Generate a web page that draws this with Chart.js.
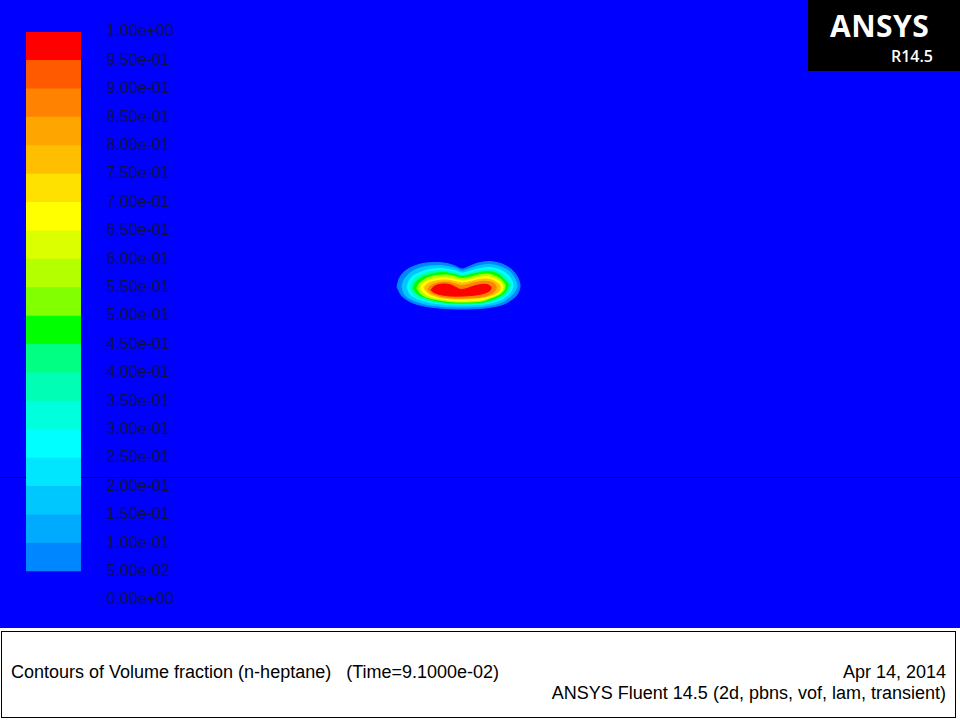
<!DOCTYPE html>
<html>
<head>
<meta charset="utf-8">
<script src="https://cdn.jsdelivr.net/npm/chart.js@4.4.0/dist/chart.umd.min.js"></script>
<style>
	body { margin: 0; width: 960px; height: 720px; background: #fff; position: relative; overflow: hidden; font-family: "Liberation Sans", Arial, sans-serif; }
	#vista { position: absolute; left: 0; top: 0; width: 960px; height: 628px; background: #0000ff; }
	#campo, #barra { position: absolute; left: 0; top: 0; }
	#logo { position: absolute; left: 808px; top: 0; width: 152px; height: 71px; background: #000; color: #fff; font-family: "Open Sans", "DejaVu Sans", sans-serif; }
	#logo .marca { position: absolute; left: 22px; top: 5px; font-size: 30px; font-weight: 700; letter-spacing: 0.5px; }
	#logo .versao { position: absolute; right: 27px; top: 45px; font-size: 16px; font-weight: 600; }
	#rodape { position: absolute; left: 1px; top: 631px; width: 955px; height: 87px; border: 1px solid #000; box-sizing: border-box; }
	.txt { position: absolute; font-size: 18px; line-height: 20px; color: #000; white-space: pre; }
</style>
</head>
<body>
<div id="vista"></div>
<canvas id="campo" width="960" height="628"></canvas>
<canvas id="barra" width="200" height="628"></canvas>
<div id="logo"><span class="marca">ANSYS</span><span class="versao">R14.5</span></div>
<div id="rodape"></div>
<div class="txt" style="left:11px; top:662px;">Contours of Volume fraction (n-heptane)   (Time=9.1000e-02)</div>
<div class="txt" style="right:14px; top:662px;">Apr 14, 2014</div>
<div class="txt" style="right:14px; top:683px;">ANSYS Fluent 14.5 (2d, pbns, vof, lam, transient)</div>
<script>
(function() {

	// faixas da escala de cores (de baixo para cima)
	var limitesInferiores = [0, 0.05, 0.10, 0.15, 0.20, 0.25, 0.30, 0.35, 0.40, 0.45, 0.50, 0.55, 0.60, 0.65, 0.70, 0.75, 0.80, 0.85, 0.90, 0.95];
	var limitesSuperiores = [0.05, 0.10, 0.15, 0.20, 0.25, 0.30, 0.35, 0.40, 0.45, 0.50, 0.55, 0.60, 0.65, 0.70, 0.75, 0.80, 0.85, 0.90, 0.95, 1.00];
	var coresFaixas = ['#0000ff', '#0087ff', '#00aaff', '#00c8ff', '#00e6ff', '#00ffff', '#00ffdc', '#00ffb4', '#00ff82', '#00ff00',
		'#82ff00', '#b4ff00', '#dcff00', '#ffff00', '#ffe100', '#ffbe00', '#ffa500', '#ff8200', '#ff5a00', '#ff0000'];

	// dominio (mm)
	var dominioX = [0, 96];
	var dominioY = [0, 62.8];
	var interfaceX = [0, 96];
	var interfaceY = [15.05, 15.05];

	// contornos da fracao volumetrica (n-heptano)
	var niveis = [0.05, 0.15, 0.25, 0.35, 0.45, 0.55, 0.65, 0.75, 0.85, 0.95];

	var contorno05X = [39.7, 39.9, 40.4, 41.2, 42.3, 43.6, 44.7, 45.5, 46.2, 46.9, 47.8, 49.0, 50.2, 51.2, 51.8, 52.0, 51.6, 50.4, 48.5, 45.7, 43.0, 41.3, 40.2];
	var contorno05Y = [34.1, 34.9, 35.6, 36.1, 36.45, 36.55, 36.45, 36.2, 35.9, 36.15, 36.5, 36.65, 36.4, 35.8, 35.0, 34.1, 33.2, 32.4, 32.0, 31.9, 32.1, 32.5, 33.2];

	var contorno15X = [40.2, 40.4, 40.9, 41.6, 42.6, 43.8, 44.8, 45.6, 46.2, 46.9, 47.8, 49.0, 50.1, 51.0, 51.5, 51.7, 51.3, 50.2, 48.5, 45.7, 43.1, 41.5, 40.5];
	var contorno15Y = [34.1, 34.8, 35.4, 35.85, 36.15, 36.25, 36.15, 35.95, 35.7, 35.9, 36.2, 36.35, 36.1, 35.6, 34.9, 34.2, 33.4, 32.6, 32.2, 32.1, 32.3, 32.7, 33.3];

	var contorno25X = [40.7, 40.9, 41.3, 42.0, 42.9, 44.0, 44.9, 45.6, 46.2, 46.9, 47.8, 49.0, 50.0, 50.8, 51.2, 51.3, 50.9, 50.0, 48.5, 45.7, 43.3, 41.8, 41.0];
	var contorno25Y = [34.1, 34.7, 35.2, 35.55, 35.85, 35.95, 35.85, 35.7, 35.5, 35.65, 35.9, 36.05, 35.8, 35.3, 34.7, 34.1, 33.4, 32.8, 32.4, 32.3, 32.5, 32.9, 33.4];

	var contorno35X = [41.0, 41.2, 41.6, 42.2, 43.1, 44.1, 45.0, 45.6, 46.2, 46.9, 47.8, 49.0, 49.9, 50.6, 51.0, 51.0, 50.6, 49.8, 48.4, 45.7, 43.5, 42.0, 41.3];
	var contorno35Y = [34.0, 34.6, 35.05, 35.35, 35.65, 35.75, 35.65, 35.5, 35.3, 35.45, 35.7, 35.85, 35.6, 35.1, 34.6, 34.0, 33.4, 32.9, 32.5, 32.4, 32.6, 33.0, 33.4];

	var contorno45X = [41.3, 41.5, 41.9, 42.5, 43.3, 44.3, 45.1, 45.7, 46.2, 46.9, 47.8, 48.9, 49.8, 50.4, 50.8, 50.7, 50.3, 49.6, 48.3, 45.7, 43.7, 42.3, 41.6];
	var contorno45Y = [34.0, 34.5, 34.9, 35.2, 35.45, 35.55, 35.45, 35.3, 35.15, 35.3, 35.5, 35.65, 35.4, 34.9, 34.4, 33.9, 33.4, 33.0, 32.6, 32.5, 32.7, 33.1, 33.5];

	var contorno55X = [41.7, 41.9, 42.3, 42.9, 43.7, 44.6, 45.3, 45.8, 46.2, 46.9, 47.8, 48.8, 49.6, 50.2, 50.5, 50.4, 50.0, 49.3, 48.2, 45.7, 43.9, 42.6, 42.0];
	var contorno55Y = [34.0, 34.4, 34.75, 35.05, 35.25, 35.3, 35.2, 35.05, 34.95, 35.05, 35.3, 35.4, 35.15, 34.75, 34.3, 33.8, 33.4, 33.1, 32.7, 32.6, 32.8, 33.1, 33.5];

	var contorno65X = [42.0, 42.2, 42.6, 43.2, 44.0, 44.8, 45.4, 45.8, 46.2, 46.9, 47.8, 48.7, 49.5, 50.0, 50.3, 50.2, 49.8, 49.1, 48.1, 45.7, 44.1, 42.9, 42.3];
	var contorno65Y = [34.0, 34.35, 34.65, 34.85, 35.0, 35.0, 34.9, 34.8, 34.7, 34.8, 35.05, 35.15, 34.95, 34.6, 34.2, 33.8, 33.4, 33.1, 32.8, 32.7, 32.9, 33.2, 33.6];

	var contorno75X = [42.4, 42.6, 43.0, 43.6, 44.3, 45.0, 45.5, 45.9, 46.2, 46.9, 47.7, 48.6, 49.3, 49.8, 50.0, 49.9, 49.5, 48.9, 47.9, 45.7, 44.3, 43.2, 42.7];
	var contorno75Y = [34.0, 34.3, 34.55, 34.7, 34.8, 34.75, 34.65, 34.55, 34.5, 34.6, 34.8, 34.9, 34.75, 34.45, 34.1, 33.7, 33.4, 33.2, 33.0, 32.9, 33.0, 33.3, 33.6];

	var contorno85X = [42.8, 43.0, 43.4, 44.0, 44.6, 45.2, 45.7, 46.1, 46.6, 47.3, 48.1, 48.8, 49.3, 49.6, 49.6, 49.4, 49.0, 48.4, 47.6, 45.7, 44.5, 43.5, 43.0];
	var contorno85Y = [33.9, 34.2, 34.4, 34.55, 34.6, 34.5, 34.35, 34.25, 34.3, 34.5, 34.65, 34.65, 34.5, 34.2, 33.9, 33.6, 33.35, 33.15, 33.05, 33.0, 33.1, 33.35, 33.6];

	var contorno95X = [43.1, 43.4, 43.9, 44.5, 45.1, 45.6, 46.1, 46.7, 47.4, 48.1, 48.7, 49.1, 49.0, 48.5, 47.6, 46.3, 45.0, 44.0, 43.4];
	var contorno95Y = [33.8, 34.15, 34.35, 34.4, 34.3, 34.05, 33.85, 33.95, 34.2, 34.35, 34.35, 34.1, 33.75, 33.5, 33.3, 33.2, 33.2, 33.35, 33.55];

	var contornosX = [contorno05X, contorno15X, contorno25X, contorno35X, contorno45X, contorno55X, contorno65X, contorno75X, contorno85X, contorno95X];
	var contornosY = [contorno05Y, contorno15Y, contorno25Y, contorno35Y, contorno45Y, contorno55Y, contorno65Y, contorno75Y, contorno85Y, contorno95Y];

	var corTexto = '#101040';
	var fonte = '"Liberation Sans", Arial, sans-serif';

	function formatoExp(valor) {
		var partes = Number(valor).toExponential(2).split('e');
		var exp = parseInt(partes[1], 10);
		var sinal = exp < 0 ? '-' : '+';
		var abs = Math.abs(exp);
		return partes[0] + 'e' + sinal + (abs < 10 ? '0' : '') + abs;
	}

	function corDoNivel(nivel) {
		for (var i = 0; i < limitesInferiores.length; i++) {
			if (Math.abs(limitesInferiores[i] - nivel) < 1e-6) return coresFaixas[i];
		}
		return coresFaixas[0];
	}

	function montarPontos(xs, ys) {
		var pontos = [];
		for (var i = 0; i < xs.length; i++) {
			pontos.push({x: xs[i], y: ys[i]});
		}
		pontos.push({x: xs[0], y: ys[0]});
		return pontos;
	}

	function construirCampo() {
		var ctx = document.getElementById('campo');
		var datasets = [];

		for (var i = 0; i < niveis.length; i++) {
			var cor = corDoNivel(niveis[i]);
			datasets.push({
				label: 'Nivel ' + niveis[i],
				data: montarPontos(contornosX[i], contornosY[i]),
				showLine: true,
				fill: 'shape',
				backgroundColor: cor,
				borderColor: cor,
				borderWidth: 1,
				pointRadius: 0,
				tension: 0.3,
				order: niveis.length - i
			});
		}

		datasets.push({
			label: 'Interface',
			data: montarPontos(interfaceX, interfaceY),
			showLine: true,
			fill: false,
			borderColor: '#000000',
			borderWidth: 1,
			pointRadius: 0,
			order: 99
		});

		new Chart(ctx, {
			type: 'scatter',
			data: {datasets: datasets},
			options: {
				responsive: false,
				animation: false,
				layout: {padding: 0},
				plugins: {legend: {display: false}, tooltip: {enabled: false}},
				scales: {
					x: {type: 'linear', display: false, min: dominioX[0], max: dominioX[1]},
					y: {type: 'linear', display: false, min: dominioY[0], max: dominioY[1]}
				}
			}
		});
	}

	function construirBarraCores() {
		var ctx = document.getElementById('barra');
		var faixas = [];

		for (var i = 0; i < coresFaixas.length; i++) {
			faixas.push({
				label: formatoExp(limitesInferiores[i]),
				data: [[limitesInferiores[i], limitesSuperiores[i]]],
				backgroundColor: coresFaixas[i],
				borderWidth: 0,
				grouped: false,
				barPercentage: 1,
				categoryPercentage: 1
			});
		}

		new Chart(ctx, {
			type: 'bar',
			data: {labels: [''], datasets: faixas},
			options: {
				responsive: false,
				animation: false,
				layout: {padding: {left: 26, top: 32, bottom: 28, right: 0}},
				plugins: {legend: {display: false}, tooltip: {enabled: false}},
				scales: {
					x: {display: false},
					y: {
						position: 'right',
						min: 0,
						max: 1,
						// sem linhas de grade; o comprimento do traco so afasta os rotulos da barra
						grid: {display: false, drawTicks: true, tickLength: 25},
						border: {display: false},
						ticks: {
							stepSize: 0.05,
							autoSkip: false,
							padding: 0,
							color: corTexto,
							font: {family: fonte, size: 16},
							callback: function(valor) { return formatoExp(valor); }
						},
						afterFit: function(escala) { escala.width = 119; }
					}
				}
			}
		});
	}

	construirCampo();
	construirBarraCores();

})();
</script>
</body>
</html>
